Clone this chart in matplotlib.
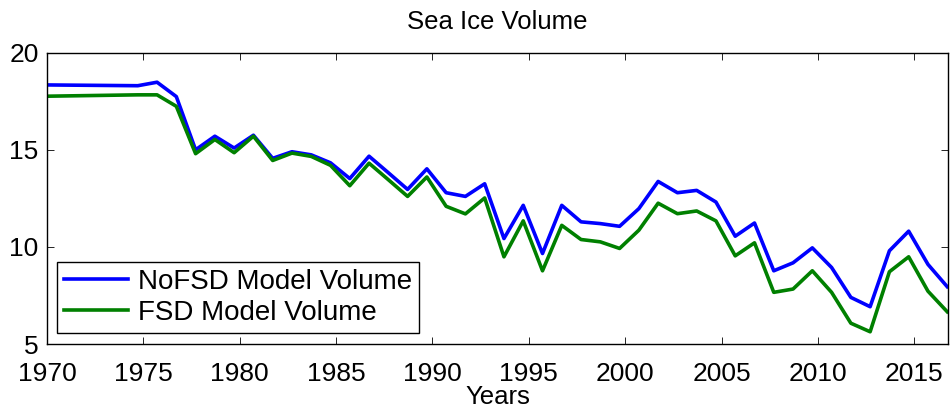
import numpy as np
import matplotlib
matplotlib.use("Agg")
import matplotlib.pyplot as plt

plt.rcParams['font.family'] = ['Liberation Sans', 'DejaVu Sans']

# Decimal years (model output, September values after 1974)
decimal_year = np.concatenate([[1970.0], np.arange(1974, 2017) + 0.71])

nofsd_volume = [18.34, 18.30, 18.48, 17.74, 15.00, 15.70, 15.09, 15.75, 14.56, 14.90,
                14.74, 14.33, 13.52, 14.67, 13.82, 12.96, 14.02, 12.79, 12.60, 13.25,
                10.43, 12.14, 9.66, 12.14, 11.29, 11.20, 11.06, 11.97, 13.37, 12.79,
                12.91, 12.31, 10.55, 11.23, 8.77, 9.18, 9.95, 8.94, 7.40, 6.92,
                9.80, 10.81, 9.10, 7.95]

fsd_volume = [17.76, 17.83, 17.83, 17.24, 14.80, 15.53, 14.85, 15.70, 14.45, 14.83,
              14.66, 14.20, 13.15, 14.31, 13.46, 12.60, 13.60, 12.09, 11.70, 12.52,
              9.49, 11.34, 8.77, 11.11, 10.38, 10.26, 9.92, 10.86, 12.25, 11.71,
              11.85, 11.34, 9.54, 10.21, 7.66, 7.83, 8.77, 7.66, 6.07, 5.63,
              8.72, 9.49, 7.72, 6.66]

xticks = [1970, 1975, 1980, 1985, 1990, 1995, 2000, 2005, 2010, 2015]
yticks = [5, 10, 15, 20]

W, H = 950, 411
fig = plt.figure(figsize=(W / 100, H / 100), dpi=100)
ax = fig.add_axes([47 / W, 1 - 344 / H, (948 - 47) / W, (344 - 52.7) / H])

ax.plot(decimal_year, nofsd_volume, color=(0, 0, 1), lw=2.6, label='NoFSD Model Volume')
ax.plot(decimal_year, fsd_volume, color=(0, 0.5, 0), lw=2.6, label='FSD Model Volume')

ax.set_xlim(1970, 2016.75)
ax.set_ylim(5, 20)
ax.set_xticks(xticks)
ax.set_yticks(yticks)
ax.tick_params(direction='in', top=True, right=True, length=5, width=0.6,
               labelsize=19)
ax.tick_params(axis='x', pad=13)
ax.tick_params(axis='y', pad=6)
for s in ax.spines.values():
    s.set_linewidth(1.0)

ax.set_title('Sea Ice Volume', fontsize=18.5, pad=17)
ax.set_xlabel('Years', fontsize=18.5, labelpad=-1)

leg = ax.legend(loc='lower left', bbox_to_anchor=(57 / W, 1 - 333 / H),
                bbox_transform=fig.transFigure, borderaxespad=0,
                fontsize=20, frameon=True, fancybox=False, handlelength=2.3,
                handletextpad=0.35, borderpad=0.25, labelspacing=0.2)
leg.get_frame().set_edgecolor('black')
leg.get_frame().set_linewidth(1.0)
leg.get_frame().set_alpha(1)

fig.savefig('out.png', dpi=100)
